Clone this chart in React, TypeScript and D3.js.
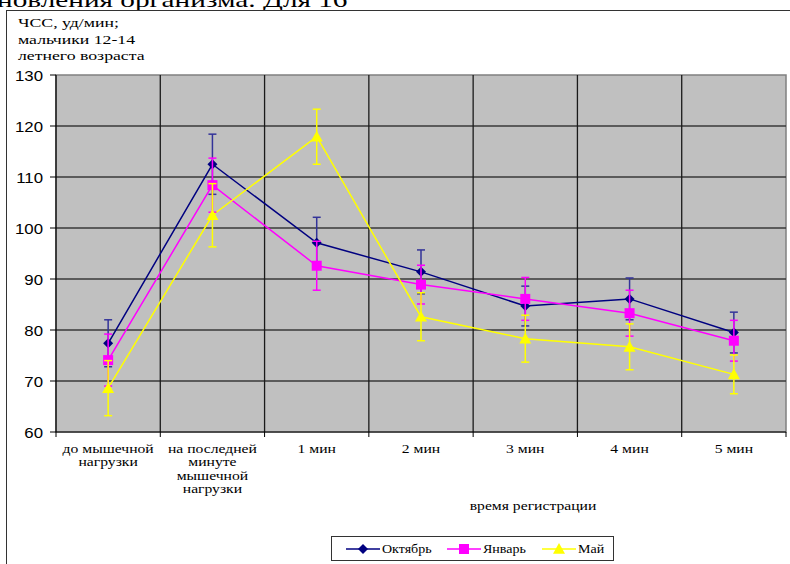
import React from "react";
import * as d3 from "d3";

const categories: string[][] = [
  ["до мышечной", "нагрузки"],
  ["на последней", "минуте", "мышечной", "нагрузки"],
  ["1 мин"],
  ["2 мин"],
  ["3 мин"],
  ["4 мин"],
  ["5 мин"],
];
const octValues = [77.4, 112.5, 97.1, 91.4, 84.7, 86.1, 79.5];
const octErr = [4.6, 5.9, 5.0, 4.3, 3.9, 4.1, 4.0];
const janValues = [74.1, 108.4, 92.6, 88.9, 86.1, 83.3, 77.9];
const janErr = [5.1, 5.3, 4.8, 3.8, 4.2, 4.5, 4.0];
const mayValues = [68.6, 102.5, 117.9, 82.6, 78.3, 76.7, 71.3];
const mayErr = [5.4, 6.2, 5.4, 4.7, 4.6, 4.5, 3.8];
const yTicks = [60, 70, 80, 90, 100, 110, 120, 130];
const titleLines = ["ЧСС, уд/мин;", "мальчики 12-14", "летнего возраста"];

const series = [
  { name: "Октябрь", values: octValues, err: octErr, color: "#000080", errColor: "#333399", marker: "diamond" },
  { name: "Январь", values: janValues, err: janErr, color: "#FF00FF", errColor: "#FF00FF", marker: "square" },
  { name: "Май", values: mayValues, err: mayErr, color: "#FFFF00", errColor: "#FFFF00", marker: "triangle" },
];

const serif = "'Liberation Serif', 'Times New Roman', serif";
const sans = "'Liberation Sans', Arial, sans-serif";

function SText({ x, y, sx, children, ...rest }: any) {
  return (
    <text transform={`translate(${x},${y}) scale(${sx},1)`} x={0} y={0} {...rest}>
      {children}
    </text>
  );
}

function Marker({ type, x, y, color }: { type: string; x: number; y: number; color: string }) {
  if (type === "diamond") {
    const s = 5;
    return <path d={`M${x},${y - s}L${x + s},${y}L${x},${y + s}L${x - s},${y}Z`} fill={color} />;
  }
  if (type === "square") {
    const s = 5;
    return <rect x={x - s} y={y - s} width={2 * s} height={2 * s} fill={color} />;
  }
  const s = 6;
  return <path d={`M${x},${y - s}L${x + s},${y + s * 0.8}L${x - s},${y + s * 0.8}Z`} fill={color} />;
}

export default function App() {
  const W = 790, H = 564;
  const left = 56, right = 786, top = 75, bottom = 432;
  const x = d3.scaleBand<number>().domain(d3.range(categories.length)).range([left, right]);
  const y = d3.scaleLinear().domain([60, 130]).range([bottom, top]);
  const cx = (i: number) => (x(i) as number) + x.bandwidth() / 2;
  const line = d3.line<number>().x((_, i) => cx(i)).y((v) => y(v));
  const bounds = d3.range(categories.length + 1).map((i) => left + i * x.bandwidth());

  return (
    <svg width={W} height={H} style={{ position: "absolute", left: 0, top: 0, background: "#fff" }}>
      <SText x={-3} y={7} sx={1.33} fontFamily={serif} fontSize={22} fill="#000">новления организма. Для 16</SText>
      <rect x={6.5} y={10.5} width={800} height={600} fill="#fff" stroke="#333" strokeWidth={1} />
      {titleLines.map((t, i) => (
        <SText key={i} x={18} y={27 + i * 16.5} sx={1.42} fontFamily={serif} fontSize={12.5} fill="#000">{t}</SText>
      ))}
      <rect x={left} y={top} width={right - left} height={bottom - top} fill="#C0C0C0" stroke="#808080" strokeWidth={1.5} />
      {yTicks.filter((t) => t !== 60 && t !== 130).map((t) => (
        <line key={t} x1={left} x2={right} y1={y(t)} y2={y(t)} stroke="#3a3a3a" strokeWidth={1.3} />
      ))}
      {bounds.slice(1, -1).map((b, i) => (
        <line key={i} x1={b} x2={b} y1={top} y2={bottom} stroke="#1a1a1a" strokeWidth={1.3} />
      ))}
      <line x1={left} x2={left} y1={top} y2={bottom} stroke="#000" strokeWidth={1.2} />
      <line x1={left} x2={right} y1={bottom} y2={bottom} stroke="#000" strokeWidth={1.2} />
      {yTicks.map((t) => (
        <g key={t}>
          <line x1={left - 6} x2={left} y1={y(t)} y2={y(t)} stroke="#000" strokeWidth={1} />
          <SText x={43} y={y(t) + 5.5} sx={1.12} textAnchor="end" fontFamily={sans} fontSize={15} fill="#000">{t}</SText>
        </g>
      ))}
      {bounds.map((b, i) => (
        <line key={i} x1={b} x2={b} y1={bottom} y2={bottom + 5} stroke="#000" strokeWidth={1} />
      ))}
      {categories.map((lines, i) => (
        <g key={i}>
          {lines.map((l, j) => (
            <SText key={j} x={cx(i)} y={452.5 + j * 13.5} sx={1.16} textAnchor="middle" fontFamily={serif} fontSize={13.5} fill="#000">{l}</SText>
          ))}
        </g>
      ))}
      <SText x={533} y={510} sx={1.16} textAnchor="middle" fontFamily={serif} fontSize={13.5} fill="#000">время регистрации</SText>
      {series.map((s) => (
        <path key={s.name} d={line(s.values) || ""} fill="none" stroke={s.color} strokeWidth={1.5} />
      ))}
      {series.map((s) => (
        <g key={s.name + "e"}>
          {s.values.map((v, i) => (
            <g key={i} stroke={s.errColor} strokeWidth={1.5}>
              <line x1={cx(i)} x2={cx(i)} y1={y(v + s.err[i])} y2={y(v - s.err[i])} />
              <line x1={cx(i) - 4} x2={cx(i) + 4} y1={y(v + s.err[i])} y2={y(v + s.err[i])} />
              <line x1={cx(i) - 4} x2={cx(i) + 4} y1={y(v - s.err[i])} y2={y(v - s.err[i])} />
            </g>
          ))}
          {s.values.map((v, i) => (
            <Marker key={"m" + i} type={s.marker} x={cx(i)} y={y(v)} color={s.color} />
          ))}
        </g>
      ))}
      <rect x={331.5} y={536.5} width={282} height={24} fill="#fff" stroke="#333" strokeWidth={1} />
      {series.map((s, i) => {
        const lx = [346, 447, 542][i];
        return (
          <g key={s.name + "l"}>
            <line x1={lx} x2={lx + 34} y1={549} y2={549} stroke={s.color} strokeWidth={1.5} />
            <Marker type={s.marker} x={lx + 17} y={549} color={s.color} />
            <SText x={lx + 36} y={553} sx={1.12} fontFamily={serif} fontSize={12.5} fill="#000">{s.name}</SText>
          </g>
        );
      })}
    </svg>
  );
}
